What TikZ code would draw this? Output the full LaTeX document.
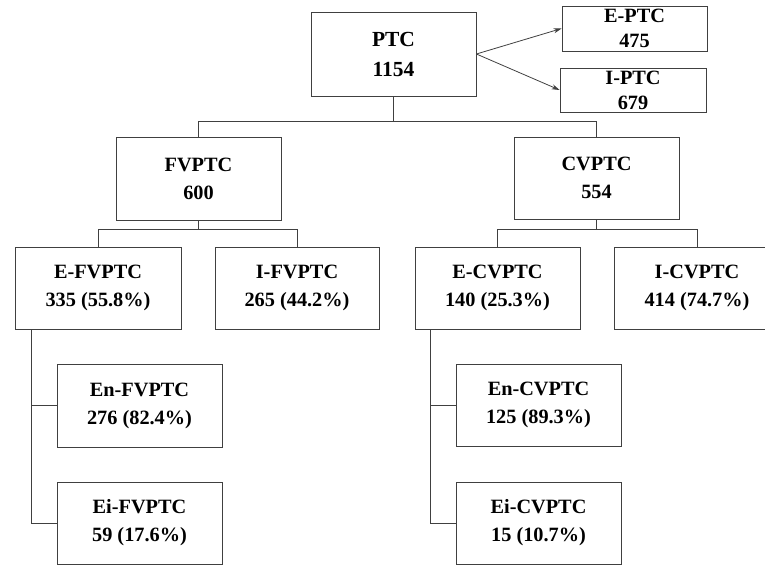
\documentclass[tikz,border=0pt]{standalone}
\usepackage{fontspec}
\setmainfont{Liberation Serif}
\usetikzlibrary{arrows.meta, positioning}

\tikzset{
    box/.style={draw=black!75, line width=0.8pt, align=center, inner sep=0pt,
        minimum width=165pt, minimum height=82pt,
        font=\bfseries\fontsize{20.3}{28}\selectfont},
    link/.style={draw=black!75, line width=0.8pt}
}

\begin{document}
\begin{tikzpicture}[x=1pt, y=-1pt]

    % PAGE
    \useasboundingbox (0,0) rectangle (765,565);
    \clip (0,0) rectangle (765,565);

    % TOP LEVEL
    \node[box, minimum height=84pt, font=\bfseries\fontsize{21.5}{30}\selectfont]
        (ptc) at (393.5,54) {PTC\\1154};
    \node[box, minimum width=145pt, minimum height=45pt, font=\bfseries\fontsize{20.3}{25}\selectfont]
        (eptc) at (634.5,28.5) {E-PTC\\475};
    \node[box, minimum width=146pt, minimum height=44pt, font=\bfseries\fontsize{20.3}{25}\selectfont]
        (iptc) at (633,90) {I-PTC\\679};

    % SECOND LEVEL
    \node[box, minimum height=83pt] (fvptc) at (198.5,178.5) {FVPTC\\600};
    \node[box] (cvptc) at (596.5,178) {CVPTC\\554};

    % THIRD LEVEL
    \node[box, minimum width=166pt] (efv) at (98,288) {E-FVPTC\\335 (55.8\%)};
    \node[box, minimum width=164pt] (ifv) at (297,288) {I-FVPTC\\265 (44.2\%)};
    \node[box] (ecv) at (497.5,288) {E-CVPTC\\140 (25.3\%)};
    \node[box, minimum width=166pt] (icv) at (697,288) {I-CVPTC\\414 (74.7\%)};

    % FOURTH LEVEL
    \node[box, minimum height=83pt] (enfv) at (139.5,405.5) {En-FVPTC\\276 (82.4\%)};
    \node[box] (eifv) at (139.5,523) {Ei-FVPTC\\59 (17.6\%)};
    \node[box] (encv) at (538.5,405) {En-CVPTC\\125 (89.3\%)};
    \node[box] (eicv) at (538.5,523) {Ei-CVPTC\\15 (10.7\%)};

    % ARROWS
    \draw[link, -{Stealth[length=8pt, width=5pt]}] (ptc.east) -- (eptc.west);
    \draw[link, -{Stealth[length=8pt, width=5pt]}] (ptc.east) -- (iptc.west);

    % TREE LINES
    \draw[link] (ptc.south) -- ++(0,25) coordinate (busptc);
    \draw[link] (busptc) -| (fvptc.north);
    \draw[link] (busptc) -| (cvptc.north);

    \draw[link] (fvptc.south) -- ++(0,9) coordinate (busfv);
    \draw[link] (busfv) -| (efv.north);
    \draw[link] (busfv) -| (ifv.north);

    \draw[link] (cvptc.south) -- ++(0,10) coordinate (buscv);
    \draw[link] (buscv) -| (ecv.north);
    \draw[link] (buscv) -| (icv.north);

    \draw[link] ([xshift=17pt]efv.south west) |- (enfv.west);
    \draw[link] ([xshift=17pt]efv.south west) |- (eifv.west);
    \draw[link] ([xshift=16pt]ecv.south west) |- (encv.west);
    \draw[link] ([xshift=16pt]ecv.south west) |- (eicv.west);

\end{tikzpicture}
\end{document}
